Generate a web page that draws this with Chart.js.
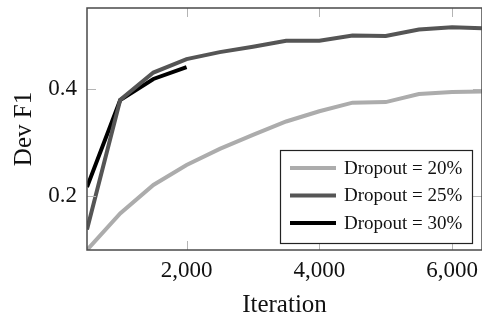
<!DOCTYPE html>
<html>
<head>
<meta charset="utf-8">
<script src="https://cdn.jsdelivr.net/npm/chart.js@4"></script>
<style>
  html, body { margin: 0; padding: 0; background: #fff; }
  #wrap { width: 482px; height: 321px; }
</style>
</head>
<body>
<div id="wrap"><canvas id="c" width="482" height="321"></canvas></div>
<script>
// iterations sampled every 500 steps
const iterations = [500, 1000, 1500, 2000, 2500, 3000, 3500, 4000, 4500, 5000, 5500, 6000, 6500];
const drop20 = [0.100, 0.168, 0.221, 0.258, 0.288, 0.314, 0.339, 0.358, 0.374, 0.375, 0.390, 0.394, 0.395];
const drop25 = [0.138, 0.379, 0.430, 0.455, 0.468, 0.478, 0.489, 0.489, 0.499, 0.498, 0.510, 0.514, 0.512];
const drop30 = [0.217, 0.379, 0.418, 0.440];
const labels = ["Dropout = 20%", "Dropout = 25%", "Dropout = 30%"];
const colors = ["#acacac", "#555555", "#000000"];
const xTicks = [2000, 4000, 6000];
const yTicks = [0.2, 0.4];

const serif = "'Liberation Serif', 'DejaVu Serif', serif";
const pts = (vals) => vals.map((v, i) => ({ x: iterations[i], y: v }));

// frame + inward tick marks on all four sides, like pgfplots
const frame = {
  id: "frame",
  afterDatasetsDraw(chart) {
    const { ctx, chartArea: a, scales: { x, y } } = chart;
    ctx.save();
    ctx.strokeStyle = "#b4b4b4";
    ctx.lineWidth = 1;
    xTicks.forEach((t) => {
      const px = Math.round(x.getPixelForValue(t)) + 0.5;
      ctx.beginPath();
      ctx.moveTo(px, a.top); ctx.lineTo(px, a.top + 9);
      ctx.moveTo(px, a.bottom); ctx.lineTo(px, a.bottom - 9);
      ctx.stroke();
    });
    yTicks.forEach((t) => {
      const py = Math.round(y.getPixelForValue(t)) + 0.5;
      ctx.beginPath();
      ctx.moveTo(a.left, py); ctx.lineTo(a.left + 9, py);
      ctx.moveTo(a.right, py); ctx.lineTo(a.right - 9, py);
      ctx.stroke();
    });
    ctx.strokeStyle = "#4a4a4a";
    ctx.lineWidth = 1.5;
    ctx.strokeRect(a.left, a.top, a.right - a.left, a.bottom - a.top);
    ctx.restore();
  },
};

// boxed legend in the lower right of the plot
const boxLegend = {
  id: "boxLegend",
  afterDraw(chart) {
    const { ctx } = chart;
    const bx = 280, by = 150, bw = 192, bh = 93;
    ctx.save();
    ctx.fillStyle = "#fff";
    ctx.fillRect(bx, by, bw, bh);
    ctx.strokeStyle = "#222";
    ctx.lineWidth = 1.2;
    ctx.strokeRect(bx + 0.5, by + 0.5, bw, bh);
    ctx.font = "19px " + serif;
    ctx.textBaseline = "middle";
    chart.data.datasets.forEach((ds, i) => {
      const ry = by + 18 + i * 27.5;
      ctx.strokeStyle = ds.borderColor;
      ctx.lineWidth = 4;
      ctx.beginPath();
      ctx.moveTo(bx + 10, ry); ctx.lineTo(bx + 56, ry);
      ctx.stroke();
      ctx.fillStyle = "#111";
      ctx.fillText(ds.label, bx + 64, ry + 1);
    });
    ctx.restore();
  },
};

new Chart(document.getElementById("c"), {
  type: "line",
  data: {
    datasets: [
      { label: labels[0], data: pts(drop20), borderColor: colors[0] },
      { label: labels[1], data: pts(drop25), borderColor: colors[1] },
      { label: labels[2], data: pts(drop30), borderColor: colors[2] },
    ].map((d) => ({ ...d, borderWidth: 4, pointRadius: 0, tension: 0, fill: false })),
  },
  options: {
    responsive: false,
    animation: false,
    layout: { padding: { top: 8, right: 0, left: 0, bottom: 0 } },
    plugins: { legend: { display: false }, tooltip: { enabled: false } },
    scales: {
      x: {
        type: "linear",
        min: 500,
        max: 6450,
        grid: { display: false, drawTicks: false },
        border: { display: false },
        afterBuildTicks: (s) => { s.ticks = xTicks.map((v) => ({ value: v })); },
        afterFit: (s) => { s.height = 71; s.paddingLeft = 0; s.paddingRight = 0; },
        ticks: {
          color: "#111",
          padding: 7,
          maxRotation: 0,
          font: { family: serif, size: 23 },
          callback: (v) => v.toLocaleString("en-US"),
        },
        title: { display: true, text: "Iteration", color: "#111", padding: { top: 0, bottom: 1 }, font: { family: serif, size: 25 } },
      },
      y: {
        min: 0.1,
        max: 0.55,
        grid: { display: false, drawTicks: false },
        border: { display: false },
        afterBuildTicks: (s) => { s.ticks = yTicks.map((v) => ({ value: v })); },
        afterFit: (s) => { s.width = 87; s.paddingTop = 0; s.paddingBottom = 0; },
        ticks: {
          color: "#111",
          padding: 10,
          font: { family: serif, size: 23 },
          callback: (v) => v.toFixed(1),
        },
        title: { display: true, text: "Dev F1", color: "#111", padding: { top: 9, bottom: 0 }, font: { family: serif, size: 25 } },
      },
    },
  },
  plugins: [frame, boxLegend],
});
</script>
</body>
</html>
